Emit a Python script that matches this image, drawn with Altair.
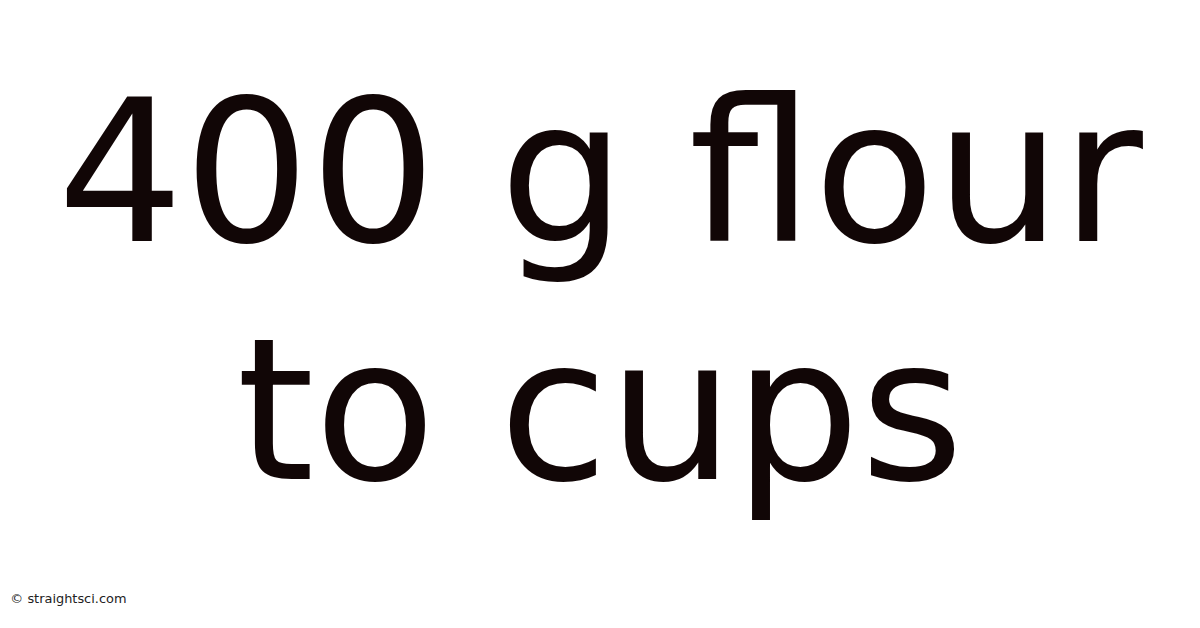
import altair as alt
import pandas as pd

# Content
title_lines = ["400 g flour", "to cups"]
line_numbers = [1, 2]
watermark = ["© straightsci.com"]

W, H = 1192, 620

main_df = pd.DataFrame({"text": title_lines, "line": line_numbers})
wm_df = pd.DataFrame({"text": watermark})

y_scale = alt.Scale(domain=[1 - 232 / 240, 1 + (H - 232) / 240], reverse=True, zero=False, nice=False)
x_scale = alt.Scale(domain=[0, 1], zero=False, nice=False)

main = alt.Chart(main_df).transform_calculate(col="0.5").mark_text(
    font="DejaVu Sans",
    fontSize=200,
    color="#110606",
    align="center",
    baseline="alphabetic",
).encode(
    x=alt.X("col:Q", scale=x_scale, axis=None),
    y=alt.Y("line:Q", scale=y_scale, axis=None),
    text="text:N",
)

wm = alt.Chart(wm_df).transform_calculate(col="0.002", line=str(1 + (596.5 - 232) / 240)).mark_text(
    font="DejaVu Sans",
    fontSize=13,
    color="#222222",
    align="left",
    baseline="alphabetic",
).encode(
    x=alt.X("col:Q", scale=x_scale, axis=None),
    y=alt.Y("line:Q", scale=y_scale, axis=None),
    text="text:N",
)

chart = alt.layer(main, wm).properties(
    width=W,
    height=H,
    padding=0,
    autosize=alt.AutoSizeParams(type="none"),
    background="white",
).configure_view(stroke=None)

chart.save("out.html", embed_options={"renderer": "svg", "actions": False})
